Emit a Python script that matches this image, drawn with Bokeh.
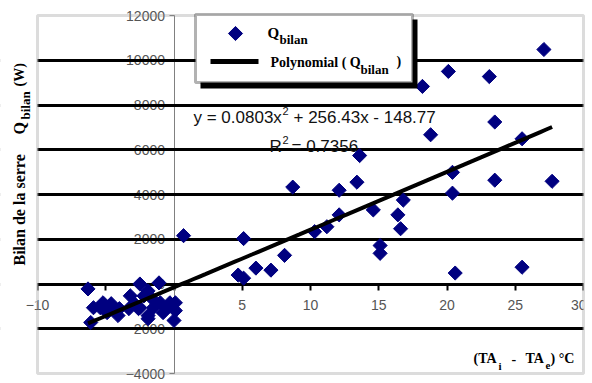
import numpy as np
from bokeh.plotting import figure
from bokeh.models import (Range1d, FixedTicker, Label, BoxAnnotation, LinearAxis, Grid)
from bokeh.embed import file_html
from bokeh.resources import INLINE

# ---------------- data ----------------
x_vals = [-6.3, -5.9, -6.1, -5.2, -4.9, -4.4, -4.1, -3.2, -3.3, -2.5, -2.5, -1.9,
          -1.9, -1.1, -1.0, -0.8, -0.3, 0.1, 0.0, -1.9, -2.6, -2.9, -4.0, -4.6,
          -5.4, -1.5, -0.5, 0.1, -2.2, -1.6,
          0.7, 5.1, 4.7, 5.1, 6.0, 7.1, 8.1, 8.7,
          10.3, 11.2, 12.1, 12.1, 13.4, 13.6, 14.6, 15.1, 15.1, 16.4, 16.6, 16.8,
          18.2, 18.8, 20.1, 20.4, 20.4, 20.6, 23.1, 23.5, 23.5, 25.5, 25.5, 27.1, 27.7]
y_vals = [-220, -1060, -1720, -840, -1280, -1060, -1410, -530, -1100, 0, -1060, -310,
          -1410, 50, -840, -1280, -840, -1190, -1630, -1550, -1100, -880, -1100, -880,
          -1060, -1060, -1060, -840, -530, -660,
          2160, 2030, 400, 260, 710, 620, 1280, 4330,
          2340, 2560, 3090, 4190, 4550, 5740, 3310, 1720, 1370, 3090, 2470, 3750,
          8830, 6670, 9500, 4990, 4060, 490, 9270, 7240, 4640, 6490, 750, 10480, 4590]

x_ticks = [-10, -5, 0, 5, 10, 15, 20, 25, 30]
y_ticks = [-4000, -2000, 0, 2000, 4000, 6000, 8000, 10000, 12000]
grid_levels = [-2000, 0, 2000, 4000, 6000, 8000, 10000]

# trendline coefficients as printed on the chart
coef_a, coef_b, coef_c = 0.0803, 256.43, -148.77

X0, X1 = -10, 30          # plot-area bounds
Y0, Y1 = -4000, 12000

# ---------------- layout (canvas pixels) ----------------
FIG_W, FIG_H = 586, 383
AREA_LEFT, AREA_TOP, AREA_W, AREA_H = 37, 15, 546, 358   # plot-area box in pixels


def dx(px):
    return X0 + (px - AREA_LEFT) / AREA_W * (X1 - X0)


def dy(py):
    return Y1 - (py - AREA_TOP) / AREA_H * (Y1 - Y0)


p = figure(width=FIG_W, height=FIG_H,
           x_range=Range1d(dx(0), dx(FIG_W)), y_range=Range1d(dy(FIG_H), dy(0)),
           output_backend="svg", toolbar_location=None, x_axis_type=None, y_axis_type=None,
           min_border=0)
p.background_fill_color = "white"
p.border_fill_color = "white"
p.outline_line_color = None

grid = Grid(dimension=1, ticker=FixedTicker(ticks=grid_levels),
            grid_line_color="black", grid_line_width=3)
p.add_layout(grid)

xaxis = LinearAxis(fixed_location=0, ticker=FixedTicker(ticks=x_ticks),
                   bounds=(X0, X1), level="underlay")
xaxis.axis_line_color = "black"
xaxis.axis_line_width = 3
xaxis.major_tick_line_color = "black"
xaxis.major_tick_line_width = 2
xaxis.major_tick_out = 6
xaxis.major_tick_in = 0
xaxis.minor_tick_line_color = None
xaxis.major_label_standoff = 10
xaxis.major_label_text_font = "Liberation Sans"
xaxis.major_label_text_font_size = "14px"
xaxis.major_label_text_color = "#555555"
p.add_layout(xaxis, "below")

yaxis = LinearAxis(fixed_location=0, ticker=FixedTicker(ticks=y_ticks),
                   bounds=(Y0, Y1), level="underlay")
yaxis.axis_line_color = "#808080"
yaxis.axis_line_width = 1
yaxis.major_tick_line_color = "#808080"
yaxis.major_tick_out = 5
yaxis.major_tick_in = 0
yaxis.minor_tick_line_color = None
yaxis.major_label_standoff = 4
yaxis.major_label_text_font = "Liberation Sans"
yaxis.major_label_text_font_size = "14px"
yaxis.major_label_text_color = "#555555"
p.add_layout(yaxis, "left")

pts = p.scatter(x_vals, y_vals, marker="square", angle=np.pi / 4, size=10,
                fill_color="#000080", line_color="#000080")

xs = np.linspace(min(x_vals), max(x_vals), 80)
ys = coef_a * xs ** 2 + coef_b * xs + coef_c
trend = p.line(xs, ys, line_color="black", line_width=4)

# white margins outside the plot area (leaving room for the "-10" tick label),
# then the grey plot-area border
FAR_L, FAR_R = dx(-30), dx(FIG_W + 30)
FAR_T, FAR_B = dy(-30), dy(FIG_H + 30)
p.add_layout(BoxAnnotation(left=FAR_L, right=X0, top=FAR_T, bottom=dy(301),
                           fill_color="white", fill_alpha=1, line_color=None))
p.add_layout(BoxAnnotation(left=FAR_L, right=X0, top=dy(323), bottom=FAR_B,
                           fill_color="white", fill_alpha=1, line_color=None))
p.add_layout(BoxAnnotation(left=X1, right=FAR_R, top=FAR_T, bottom=FAR_B,
                           fill_color="white", fill_alpha=1, line_color=None))
p.add_layout(BoxAnnotation(left=X0, right=X1, bottom=Y0, top=Y1, fill_alpha=0,
                           line_color="#8c8c8c", line_width=3))

# ---------------- legend (drawn by hand to allow subscripts) ----------------
p.add_layout(BoxAnnotation(left=dx(200), right=dx(417), top=dy(19), bottom=dy(88),
                           fill_color="black", fill_alpha=1, line_color=None))
p.add_layout(BoxAnnotation(left=dx(195), right=dx(412), top=dy(14), bottom=dy(82),
                           fill_color="white", fill_alpha=1, line_color="black",
                           line_width=3))
p.scatter([dx(235)], [dy(33)], marker="square", angle=np.pi / 4, size=10,
          fill_color="#000080", line_color="#000080", level="overlay")
p.line([dx(210), dx(258)], [dy(61), dy(61)], line_color="black", line_width=5,
       level="overlay")

serif = "Liberation Serif"
sans = "Liberation Sans"


def add_label(text, px, py, size, font=serif, style="bold", angle=0.0, color="black"):
    p.add_layout(Label(x=dx(px), y=dy(py), text=text, text_font=font,
                       text_font_style=style, text_font_size=f"{size}px",
                       text_color=color, text_align="left", text_baseline="middle",
                       angle=angle))


add_label("Q", 267, 32, 15)
add_label("bilan", 279, 39, 13)
add_label("Polynomial ( Q", 270, 62, 14)
add_label("bilan", 360, 69, 13)
add_label(")", 396, 61, 14)

# equation and R²
ink = "#111111"
add_label("y = 0.0803x", 193, 117, 17, font=sans, style="normal", color=ink)
add_label("2", 282, 110, 11, font=sans, style="normal", color=ink)
add_label("+ 256.43x - 148.77", 293, 117, 17, font=sans, style="normal", color=ink)
add_label("R", 269, 146, 17, font=sans, style="normal", color=ink)
add_label("2", 282, 139, 11, font=sans, style="normal", color=ink)
add_label("= 0.7356", 291, 146, 17, font=sans, style="normal", color=ink)

# x axis title
add_label("(TA", 473, 358, 14)
add_label("i", 498, 365, 11)
add_label("-", 511, 358, 14)
add_label("TA", 525, 358, 14)
add_label("e", 545, 365, 11)
add_label(") \u00b0C", 550, 358, 14)

# clean left edge strip, then the rotated y axis title on top of it
p.add_layout(BoxAnnotation(left=FAR_L, right=dx(9), top=FAR_T, bottom=FAR_B,
                           fill_color="white", fill_alpha=1, line_color=None))
add_label("Bilan de la serre", 19, 265, 16, angle=np.pi / 2)
add_label("Q", 19, 134, 16, angle=np.pi / 2)
add_label("bilan", 25, 119, 13, angle=np.pi / 2)
add_label("(W)", 19, 86, 14, angle=np.pi / 2)

open("out.html", "w").write(file_html(p, INLINE))
